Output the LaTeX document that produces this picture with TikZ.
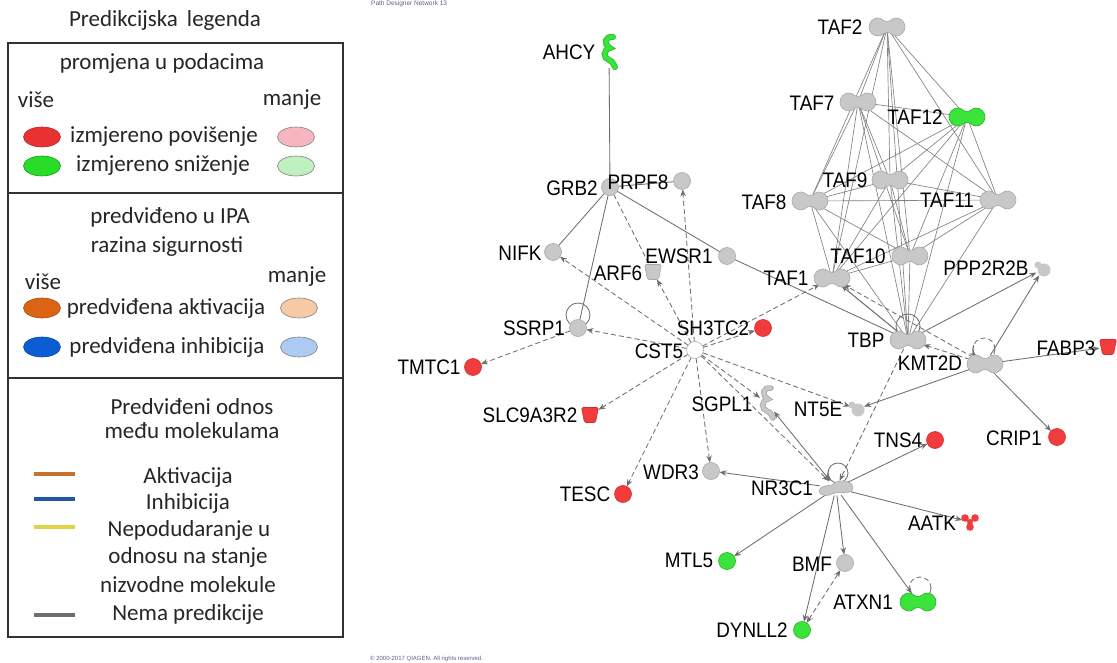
\documentclass[tikz,border=0pt]{standalone}
\usepackage{fontspec}
\setmainfont{Liberation Sans}
\newfontfamily\legf{Carlito}
\newfontfamily\labf[FakeStretch=0.9]{Liberation Sans}
\usetikzlibrary{shapes.geometric,arrows.meta,calc}
\definecolor{ngrey}{RGB}{200,200,200}
\definecolor{nbord}{RGB}{168,168,168}
\definecolor{nred}{RGB}{240,60,60}
\definecolor{nredb}{RGB}{215,45,45}
\definecolor{ngreen}{RGB}{58,228,58}
\definecolor{ngreenb}{RGB}{40,175,40}
\definecolor{edgec}{RGB}{110,110,110}
\definecolor{tafc}{RGB}{130,130,130}
\definecolor{boxc}{RGB}{50,50,50}
\definecolor{lred}{RGB}{232,50,50}
\definecolor{lpink}{RGB}{246,182,192}
\definecolor{lgreen}{RGB}{40,220,40}
\definecolor{llgreen}{RGB}{192,240,192}
\definecolor{lorange}{RGB}{218,100,20}
\definecolor{llorange}{RGB}{246,202,165}
\definecolor{lblue}{RGB}{12,92,212}
\definecolor{llblue}{RGB}{172,202,242}
\definecolor{lact}{RGB}{200,112,45}
\definecolor{linh}{RGB}{35,85,165}
\definecolor{lmis}{RGB}{222,212,70}
\definecolor{lnon}{RGB}{110,110,110}
\definecolor{smalltxt}{RGB}{95,95,140}
\tikzset{
  anc/.style={inner sep=0pt, outer sep=0pt, draw=none, fill=none},
  cA/.style={anc, circle, minimum size=17pt},
  dA/.style={anc, ellipse, minimum width=36pt, minimum height=18pt},
  eA/.style={anc, rectangle, minimum width=14pt, minimum height=32pt},
  bA/.style={anc, circle, minimum size=15pt},
  nA/.style={anc, ellipse, minimum width=34pt, minimum height=15pt},
  kA/.style={anc, circle, minimum size=16pt},
  uA/.style={anc, rectangle, minimum width=17pt, minimum height=15pt},
  gst/.style={fill=ngrey, draw=nbord, line width=0.6pt},
  rst/.style={fill=nred, draw=nredb, line width=0.6pt},
  grst/.style={fill=ngreen, draw=ngreenb, line width=0.6pt},
  wst/.style={fill=white, draw=nbord, line width=0.6pt},
  lab/.style={inner sep=0pt, font=\labf\fontsize{21}{24}\selectfont, text=black},
  leg/.style={inner sep=0pt, font=\legf\fontsize{23}{27}\selectfont, text=black!85},
  ed/.style={draw=edgec, line width=0.85pt},
  dsh/.style={ed, dash pattern=on 5pt off 3pt},
  arr/.style={-{Stealth[length=7pt,width=5.5pt]}},
  arrs/.style={{Stealth[length=7pt,width=5.5pt]}-{Stealth[length=7pt,width=5.5pt]}},
  tafl/.style={draw=tafc, line width=0.65pt},
  lege/.style={ellipse, minimum width=37pt, minimum height=20pt, inner sep=0pt, line width=0.6pt},
  legl/.style={line width=3.5pt},
  pics/dumb/.style={code={\path[pic actions] (0,5.5) .. controls (4,5.5) and (5,9) .. (9,9) arc[start angle=90,end angle=-90,radius=9] .. controls (5,-9) and (4,-5.5) .. (0,-5.5) .. controls (-4,-5.5) and (-5,-9) .. (-9,-9) arc[start angle=270,end angle=90,radius=9] .. controls (-5,9) and (-4,5.5) .. (0,5.5) -- cycle;}},
  pics/circ/.style={code={\path[pic actions] (0,0) circle[radius=8.5];}},
  pics/cup/.style={code={\path[pic actions, rounded corners=1.5pt] (-8.5,-7.5) -- (8.5,-7.5) -- (5.5,7.5) -- (-5.5,7.5) -- cycle;}},
  pics/enz/.style={code={\path[pic actions, line cap=round, fill=none] (4,-15) .. controls (-4,-16) and (-6,-8) .. (1,-4) .. controls (-6,-2) and (-6,6) .. (0,8) .. controls (5,10) and (4,13) .. (6,15);}},
  pics/blob/.style={code={\path[pic actions] (1,1) circle[radius=6.5] (-5,-4) circle[radius=3.5];}},
  pics/nrs/.style={code={\path[pic actions] (-17,3) .. controls (-16,-3) and (-8,-2) .. (-4,-3) .. controls (0,-8) and (8,-8) .. (12,-6) .. controls (18,-5) and (18,3) .. (14,4) .. controls (6,5) and (0,4) .. (-4,6) .. controls (-9,9) and (-17,7) .. (-17,3) -- cycle;}},
  pics/kin/.style={code={\path[pic actions] (-5,-4) circle[radius=3.8] (5,-4) circle[radius=3.8] (0,5) circle[radius=3.8] (0,0) circle[radius=3];}}
}
\begin{document}
\begin{tikzpicture}[x=1pt,y=-1pt]
\useasboundingbox[fill=white] (0,0) rectangle (1117,663);

% ---------------- Legend ----------------
\node[leg] (lt) at (165,20) {Predikcijska\, legenda};
\draw[boxc, line width=1.4pt] (8,43) rectangle (343,637);
\draw[boxc, line width=1.4pt] (8,193) -- (343,193);
\draw[boxc, line width=1.4pt] (8,378) -- (343,378);
\node[leg] (l1) at (162,63) {promjena u podacima};
\node[leg] (l2) at (36,100) {više};
\node[leg] (l3) at (292,100) {manje};
\node[lege, fill=lred, draw=lred!80!black] (e1) at (42,137) {};
\node[leg] (l4) at (164,137) {izmjereno povišenje};
\node[lege, fill=lpink, draw=gray] (e2) at (296,137) {};
\node[lege, fill=lgreen, draw=lgreen!70!black] (e3) at (42,166) {};
\node[leg] (l5) at (163,166) {izmjereno sniženje};
\node[lege, fill=llgreen, draw=gray] (e4) at (296,166) {};
\node[leg] (l6) at (170,217) {predviđeno u IPA};
\node[leg] (l7) at (167,247) {razina sigurnosti};
\node[leg] (l8) at (43,282) {više};
\node[leg] (l9) at (297,277) {manje};
\node[lege, fill=lorange, draw=lorange!80!black] (e5) at (42,308) {};
\node[leg] (l10) at (166,308) {predviđena aktivacija};
\node[lege, fill=llorange, draw=gray] (e6) at (299,308) {};
\node[lege, fill=lblue, draw=lblue!80!black] (e7) at (42,347) {};
\node[leg] (l11) at (167,347) {predviđena inhibicija};
\node[lege, fill=llblue, draw=gray] (e8) at (299,347) {};
\node[leg] (l12) at (192,407) {Predviđeni odnos};
\node[leg] (l13) at (192,431) {među molekulama};
\coordinate (a1) at (34,474); \coordinate (a2) at (75,474);
\coordinate (b1) at (34,499); \coordinate (b2) at (75,499);
\coordinate (c1) at (34,527); \coordinate (c2) at (75,527);
\coordinate (d1) at (34,615); \coordinate (d2) at (75,615);
\draw[legl, lact] (a1) -- (a2);
\draw[legl, linh] (b1) -- (b2);
\draw[legl, lmis] (c1) -- (c2);
\draw[legl, lnon] (d1) -- (d2);
\node[leg] (l14) at (188,477) {Aktivacija};
\node[leg] (l15) at (188,503) {Inhibicija};
\node[leg] (l16) at (189,530) {Nepodudaranje u};
\node[leg] (l17) at (188,557) {odnosu na stanje};
\node[leg] (l18) at (188,585) {nizvodne molekule};
\node[leg] (l19) at (188,614) {Nema predikcije};

% small texts
\node[inner sep=0pt, font=\fontsize{6.5}{7}\selectfont, text=smalltxt, anchor=west] (hdr) at (371,4) {Path Designer Network 13};
\node[inner sep=0pt, font=\fontsize{6}{7}\selectfont, text=smalltxt, anchor=west] (cpy) at (370,659) {© 2000-2017 QIAGEN. All rights reserved.};

% ---------------- Node anchors ----------------
\node[eA] (AHCY) at (609,52) {};
\node[cA] (GRB2) at (610,187) {};
\node[cA] (PRPF8) at (682,181) {};
\node[cA] (NIFK) at (553,252) {};
\node[cA] (EWSR1) at (727,256) {};
\node[uA] (ARF6) at (653,272) {};
\node[cA] (SSRP1) at (578,328) {};
\node[cA] (CST5) at (695,350) {};
\node[cA] (SH3TC2) at (763,328) {};
\node[cA] (TMTC1) at (473,367) {};
\node[uA] (SLC9A3R2) at (590,415) {};
\node[eA] (SGPL1) at (767,403) {};
\node[bA] (NT5E) at (857,409) {};
\node[cA] (WDR3) at (711,471) {};
\node[cA] (TESC) at (623,494) {};
\node[nA] (NR3C1) at (836,488) {};
\node[cA] (TNS4) at (935,440) {};
\node[cA] (CRIP1) at (1057,437) {};
\node[kA] (AATK) at (970,522) {};
\node[cA] (MTL5) at (727,561) {};
\node[cA] (BMF) at (845,563) {};
\node[dA] (ATXN1) at (918,602) {};
\node[cA] (DYNLL2) at (802,630) {};
\node[dA] (TAF2) at (887,27) {};
\node[dA] (TAF7) at (858,102) {};
\node[dA] (TAF12) at (967,117) {};
\node[dA] (TAF9) at (890,180) {};
\node[dA] (TAF8) at (810,201) {};
\node[dA] (TAF11) at (998,200) {};
\node[dA] (TAF10) at (910,256) {};
\node[dA] (TAF1) at (832,278) {};
\node[bA] (PPP2R2B) at (1043,269) {};
\node[dA] (TBP) at (908,340) {};
\node[dA] (KMT2D) at (985,364) {};
\node[uA] (FABP3) at (1108,347) {};

% loop centres
\coordinate (SSRP1loop) at (578,315);
\coordinate (TBPloop) at (908,326);
\coordinate (KMT2Dloop) at (984,349);
\coordinate (NR3C1loop) at (838,473);
\coordinate (ATXN1loop) at (920,588);

% ---------------- TAF complex ----------------
\foreach \a/\i in {TAF2/1,TAF7/2,TAF12/3,TAF9/4,TAF8/5,TAF11/6,TAF10/7,TAF1/8,TBP/9}{
  \foreach \b/\j in {TAF2/1,TAF7/2,TAF12/3,TAF9/4,TAF8/5,TAF11/6,TAF10/7,TAF1/8,TBP/9}{
    \ifnum\i<\j \draw[tafl] (\a.center) -- (\b.center); \fi
  }
}

% ---------------- Edges ----------------
\draw[ed] (AHCY) -- (GRB2);
\draw[ed] (GRB2) -- (PRPF8);
\draw[ed] (GRB2) -- (NIFK);
\draw[ed] (GRB2) -- (SSRP1);
\draw[ed] (GRB2) -- (EWSR1);
\draw[ed] (EWSR1) -- (TBP);
\draw[dsh] (GRB2) -- (ARF6);

\draw[dsh, arr] (CST5) -- (PRPF8);
\draw[dsh, arr] (CST5) -- (NIFK);
\draw[dsh, arr] (CST5) -- (ARF6);
\draw[dsh, arr] (CST5) -- (SSRP1);
\draw[dsh, arr] (CST5) -- (SLC9A3R2);
\draw[dsh, arr] (CST5) -- (TESC);
\draw[dsh, arr] (CST5) -- (WDR3);
\draw[dsh, arr] (CST5) -- (SGPL1);
\draw[dsh, arr] (CST5) -- (NR3C1);
\draw[dsh, arr] (CST5) -- (NT5E);
\draw[dsh, arr] (CST5) -- (TAF1);
\draw[dsh, arr] (CST5) -- (SH3TC2);
\draw[dsh, arr] (SSRP1) -- (TMTC1);

\draw[dsh, arr] (TBP) -- (NR3C1);
\draw[dsh, arr] (KMT2D) -- (TBP);
\draw[dsh, arr] (KMT2D) -- (TAF1);
\draw[ed, arr] (TBP) -- (TAF1);
\draw[ed, arr] (TBP) -- (PPP2R2B);
\draw[ed, arr] (KMT2D) -- (PPP2R2B);
\draw[ed, arr] (KMT2D) -- (FABP3);
\draw[ed, arr] (KMT2D) -- (CRIP1);
\draw[ed, arr] (KMT2D) -- (NT5E);

\draw[ed, arrs] (SGPL1) -- (NR3C1);
\draw[ed, arr] (NR3C1) -- (WDR3);
\draw[ed, arr] (NR3C1) -- (TNS4);
\draw[ed, arr] (NR3C1) -- (AATK);
\draw[ed, arr] (NR3C1) -- (MTL5);
\draw[ed, arr] (NR3C1) -- (BMF);
\draw[ed, arr] (NR3C1) -- (DYNLL2);
\draw[ed, arr] (NR3C1) -- (ATXN1);
\draw[dsh, arrs] (DYNLL2) -- (BMF);

% self loops
\draw[ed] (SSRP1loop) circle[radius=12];
\draw[ed] (TBPloop) circle[radius=12];
\draw[dsh] (KMT2Dloop) circle[radius=11];
\draw[ed, arr] ([shift={(200:11)}]KMT2Dloop) arc[start angle=200, end angle=135, radius=11];
\draw[ed] (NR3C1loop) circle[radius=10];
\draw[ed, arr] ([shift={(200:10)}]NR3C1loop) arc[start angle=200, end angle=135, radius=10];
\draw[dsh] (ATXN1loop) circle[radius=11];

% ---------------- Shapes ----------------
\pic[draw=ngreen!85!black, line width=6pt] at (AHCY) {enz};
\pic[draw=ngreen, line width=4pt] at (AHCY) {enz};
\pic[draw=ngrey!85!black, line width=5.5pt] at (SGPL1) {enz};
\pic[draw=ngrey, line width=3.8pt] at (SGPL1) {enz};
\foreach \n in {GRB2,PRPF8,NIFK,EWSR1,SSRP1,WDR3,BMF}{\pic[gst] at (\n) {circ};}
\pic[wst] at (CST5) {circ};
\foreach \n in {SH3TC2,TMTC1,TESC,TNS4,CRIP1}{\pic[rst] at (\n) {circ};}
\foreach \n in {MTL5,DYNLL2}{\pic[grst] at (\n) {circ};}
\pic[gst] at (ARF6) {cup};
\pic[rst] at (SLC9A3R2) {cup};
\pic[rst] at (FABP3) {cup};
\foreach \n in {TAF2,TAF7,TAF9,TAF8,TAF11,TAF10,TAF1,TBP,KMT2D}{\pic[gst] at (\n) {dumb};}
\pic[grst] at (TAF12) {dumb};
\pic[grst] at (ATXN1) {dumb};
\pic[fill=ngrey] at (NT5E) {blob};
\pic[fill=ngrey] at (PPP2R2B) {blob};
\pic[gst] at (NR3C1) {nrs};
\pic[fill=nred] at (AATK) {kin};

% ---------------- Labels ----------------
\node[lab] (tAHCY) at (569,52) {AHCY};
\node[lab] (tGRB2) at (572,188) {GRB2};
\node[lab] (tPRPF8) at (638,182) {PRPF8};
\node[lab] (tNIFK) at (520,253) {NIFK};
\node[lab] (tEWSR1) at (679,256) {EWSR1};
\node[lab] (tARF6) at (618,273) {ARF6};
\node[lab] (tSSRP1) at (534,328) {SSRP1};
\node[lab] (tCST5) at (659,351) {CST5};
\node[lab] (tSH3TC2) at (713,328) {SH3TC2};
\node[lab] (tTMTC1) at (429,367) {TMTC1};
\node[lab] (tSLC9A3R2) at (530,415) {SLC9A3R2};
\node[lab] (tSGPL1) at (722,404) {SGPL1};
\node[lab] (tNT5E) at (818,409) {NT5E};
\node[lab] (tWDR3) at (671,472) {WDR3};
\node[lab] (tTESC) at (585,494) {TESC};
\node[lab] (tNR3C1) at (782,488) {NR3C1};
\node[lab] (tTNS4) at (898,440) {TNS4};
\node[lab] (tCRIP1) at (1014,438) {CRIP1};
\node[lab] (tAATK) at (932,523) {AATK};
\node[lab] (tMTL5) at (689,560) {MTL5};
\node[lab] (tBMF) at (812,564) {BMF};
\node[lab] (tATXN1) at (863,602) {ATXN1};
\node[lab] (tDYNLL2) at (752,630) {DYNLL2};
\node[lab] (tTAF2) at (840,27) {TAF2};
\node[lab] (tTAF7) at (812,103) {TAF7};
\node[lab] (tTAF12) at (915,117) {TAF12};
\node[lab] (tTAF9) at (845,180) {TAF9};
\node[lab] (tTAF8) at (764,202) {TAF8};
\node[lab] (tTAF11) at (947,200) {TAF11};
\node[lab] (tTAF10) at (858,256) {TAF10};
\node[lab] (tTAF1) at (786,278) {TAF1};
\node[lab] (tPPP2R2B) at (986,268) {PPP2R2B};
\node[lab] (tTBP) at (866,340) {TBP};
\node[lab] (tKMT2D) at (930,363) {KMT2D};
\node[lab] (tFABP3) at (1066,348) {FABP3};
\end{tikzpicture}
\end{document}
